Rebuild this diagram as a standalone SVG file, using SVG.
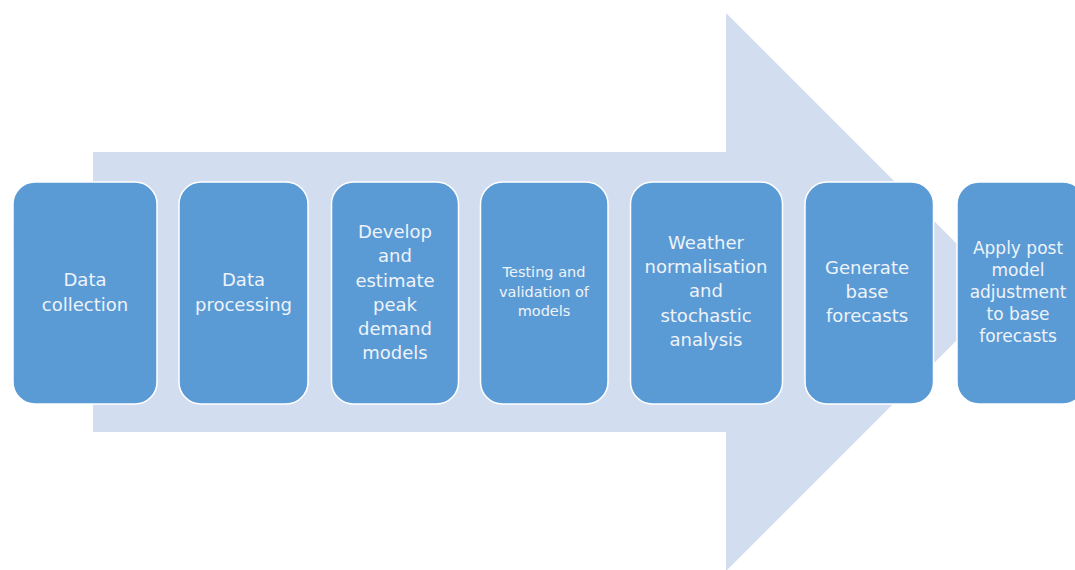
<svg xmlns="http://www.w3.org/2000/svg" width="1075" height="570" viewBox="0 0 1075 570">
<style>
.box{fill:#5B9BD5;stroke:#ffffff;stroke-width:1.5}
.t{font-family:"DejaVu Sans","Liberation Sans",sans-serif;font-size:18px;fill:#EEF3FA;text-anchor:middle}
.s{font-size:14.5px}
.m{font-size:17px}
</style>
<rect width="1075" height="570" fill="#ffffff"/>
<g id="arrow">
<polygon points="93,152 726,152 726,13 1005,292 726,571 726,432 93,432" fill="#D2DEEF"/>
</g>
<g id="connectors"></g>
<g id="n1"><rect class="box" x="13" y="182" width="144" height="222" rx="22"/>
<text class="t" x="85" y="286">Data</text><text class="t" x="85" y="311">collection</text></g>
<g id="n2"><rect class="box" x="179" y="182" width="129" height="222" rx="22"/>
<text class="t" x="243.5" y="286">Data</text><text class="t" x="243.5" y="311">processing</text></g>
<g id="n3"><rect class="box" x="331.5" y="182" width="127" height="222" rx="22"/>
<text class="t" x="395" y="238">Develop</text><text class="t" x="395" y="262">and</text><text class="t" x="395" y="287">estimate</text><text class="t" x="395" y="311">peak</text><text class="t" x="395" y="335">demand</text><text class="t" x="395" y="359">models</text></g>
<g id="n4"><rect class="box" x="480.5" y="182" width="127.5" height="222" rx="22"/>
<text class="t s" x="544" y="277">Testing and</text><text class="t s" x="544" y="297">validation of</text><text class="t s" x="544" y="316">models</text></g>
<g id="n5"><rect class="box" x="630.5" y="182" width="152" height="222" rx="22"/>
<text class="t" x="706" y="249">Weather</text><text class="t" x="706" y="273">normalisation</text><text class="t" x="706" y="297">and</text><text class="t" x="706" y="321.5">stochastic</text><text class="t" x="706" y="345.5">analysis</text></g>
<g id="n6"><rect class="box" x="805" y="182" width="128.5" height="222" rx="22"/>
<text class="t" x="867" y="274">Generate</text><text class="t" x="867" y="298">base</text><text class="t" x="867" y="322">forecasts</text></g>
<g id="n7"><rect class="box" x="957" y="182" width="128" height="222" rx="22"/>
<text class="t m" x="1018" y="254">Apply post</text><text class="t m" x="1018" y="276">model</text><text class="t m" x="1018" y="298">adjustment</text><text class="t m" x="1018" y="320">to base</text><text class="t m" x="1018" y="342">forecasts</text></g>
</svg>
